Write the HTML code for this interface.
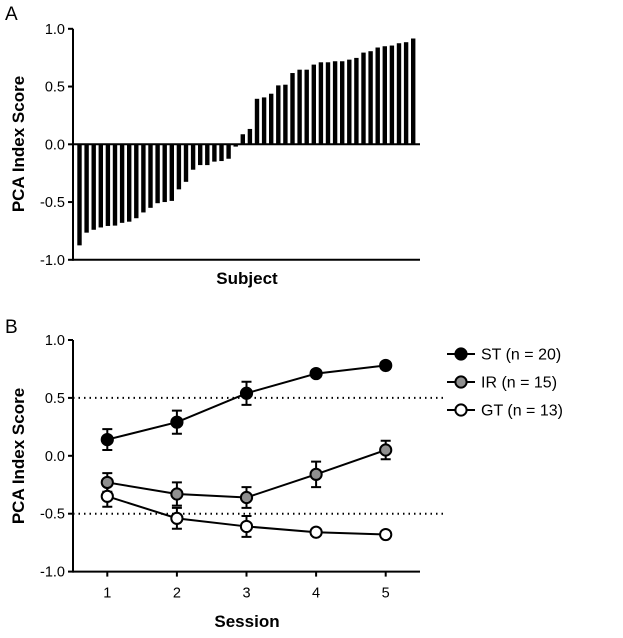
<!DOCTYPE html>
<html><head><meta charset="utf-8"><style>
html,body{margin:0;padding:0;background:#fff}
svg text{font-family:"Liberation Sans",Arial,sans-serif;fill:#000}
</style></head><body>
<svg id="c" width="623" height="633" viewBox="0 0 623 633" xmlns="http://www.w3.org/2000/svg">
<g id="gA"></g>
<g id="gB"></g>
</svg>
<script>
const subjectScores=[-0.875,-0.765,-0.74,-0.72,-0.707,-0.704,-0.68,-0.67,-0.64,-0.59,-0.55,-0.51,-0.50,-0.49,-0.39,-0.325,-0.22,-0.18,-0.18,-0.15,-0.145,-0.125,-0.02,
0.087,0.133,0.394,0.406,0.438,0.51,0.516,0.617,0.646,0.646,0.69,0.71,0.71,0.719,0.719,0.733,0.748,0.794,0.806,0.838,0.849,0.855,0.875,0.884,0.916];
const yTicks=[1.0,0.5,0.0,-0.5,-1.0];
const yTickLabels=["1.0","0.5","0.0","-0.5","-1.0"];
const sessions=[1,2,3,4,5];
const stMean=[0.14,0.29,0.54,0.71,0.78];
const stErr=[0.09,0.10,0.10,0.03,0.03];
const irMean=[-0.23,-0.33,-0.36,-0.16,0.05];
const irErr=[0.08,0.10,0.09,0.11,0.08];
const gtMean=[-0.35,-0.54,-0.61,-0.66,-0.68];
const gtErr=[0.09,0.09,0.09,0.02,0.02];
const seriesNames=["ST (n = 20)","IR (n = 15)","GT (n = 13)"];
const thresholds=[0.5,-0.5];

const NS="http://www.w3.org/2000/svg";
function mk(p,tag,attrs,txt){const e=document.createElementNS(NS,tag);for(const k in attrs)e.setAttribute(k,attrs[k]);if(txt!==undefined)e.textContent=txt;p.appendChild(e);return e;}

// Panel A
const gA=document.getElementById('gA');
const ax0=73, ax1=420;
const yA=v=>144.3-v*115.5;
const xA=i=>77.3+i*7.1;
subjectScores.forEach((v,i)=>{
  const r=mk(gA,'rect',{x:xA(i),y:Math.min(yA(v),yA(0)),width:4.4,height:Math.abs(yA(v)-yA(0)),fill:'#000'});
  
  
});
let l=mk(gA,'line',{x1:ax0,y1:yA(0),x2:ax1,y2:yA(0),stroke:'#000','stroke-width':2});

l=mk(gA,'line',{x1:ax0,y1:yA(1),x2:ax0,y2:yA(-1)+1,stroke:'#000','stroke-width':2});

l=mk(gA,'line',{x1:ax0,y1:yA(-1),x2:ax1,y2:yA(-1),stroke:'#000','stroke-width':2});

yTicks.forEach((v,i)=>{
  const t=mk(gA,'line',{x1:ax0-5,y1:yA(v),x2:ax0,y2:yA(v),stroke:'#000','stroke-width':2});
  
  const tx=mk(gA,'text',{x:ax0-8,y:yA(v)+5,'text-anchor':'end','font-size':14.5},yTickLabels[i]);
  
});
let tt=mk(gA,'text',{x:247,y:284,'text-anchor':'middle','font-size':17,'font-weight':'bold'},'Subject');

tt=mk(gA,'text',{x:0,y:0,'text-anchor':'middle','font-size':17,'font-weight':'bold',transform:'translate(24,144) rotate(-90)'},'PCA Index Score');

tt=mk(gA,'text',{x:5,y:20,'font-size':19},'A');


// Panel B
const gB=document.getElementById('gB');
const yB=v=>455.8-v*115.8;
const xB=s=>107.3+(s-1)*69.6;
thresholds.forEach(v=>{
  const d=mk(gB,'line',{x1:ax0,y1:yB(v),x2:445,y2:yB(v),stroke:'#000','stroke-width':2,'stroke-dasharray':'1.5 4'});
  
});
l=mk(gB,'line',{x1:ax0,y1:yB(1),x2:ax0,y2:yB(-1)+1,stroke:'#000','stroke-width':2});

l=mk(gB,'line',{x1:ax0,y1:yB(-1),x2:ax1,y2:yB(-1),stroke:'#000','stroke-width':2});

yTicks.forEach((v,i)=>{
  const t=mk(gB,'line',{x1:ax0-5,y1:yB(v),x2:ax0,y2:yB(v),stroke:'#000','stroke-width':2});
  
  const tx=mk(gB,'text',{x:ax0-8,y:yB(v)+5,'text-anchor':'end','font-size':14.5},yTickLabels[i]);
  
});
sessions.forEach(s=>{
  const t=mk(gB,'line',{x1:xB(s),y1:yB(-1),x2:xB(s),y2:yB(-1)+5,stroke:'#000','stroke-width':2});
  
  const tx=mk(gB,'text',{x:xB(s),y:yB(-1)+26,'text-anchor':'middle','font-size':14.5},String(s));
  
});
const series=[[stMean,stErr,'#000','st'],[irMean,irErr,'#8f8f8f','ir'],[gtMean,gtErr,'#fff','gt']];
series.forEach(([m,e,fill,key])=>{
  const pts=sessions.map((s,i)=>xB(s)+','+yB(m[i])).join(' ');
  const pl=mk(gB,'polyline',{points:pts,fill:'none',stroke:'#000','stroke-width':2});
  
  sessions.forEach((s,i)=>{
    const x=xB(s),y1=yB(m[i]+e[i]),y2=yB(m[i]-e[i]);
    const eb=mk(gB,'path',{d:`M${x},${y1}V${y2}M${x-5},${y1}H${x+5}M${x-5},${y2}H${x+5}`,stroke:'#000','stroke-width':2,fill:'none'});
    
  });
});
series.forEach(([m,e,fill,key])=>{
  sessions.forEach((s,i)=>{
    const c=mk(gB,'circle',{cx:xB(s),cy:yB(m[i]),r:5.6,fill:fill,stroke:'#000','stroke-width':2});
    
  });
});
series.forEach(([m,e,fill,key],i)=>{
  const y=354+i*28;
  const lg=mk(gB,'g',{});
  
  mk(lg,'line',{x1:447,y1:y,x2:475,y2:y,stroke:'#000','stroke-width':2});
  mk(lg,'circle',{cx:461,cy:y,r:5.6,fill:fill,stroke:'#000','stroke-width':2});
  mk(lg,'text',{x:481,y:y+5.5,'font-size':16},seriesNames[i]);
});
tt=mk(gB,'text',{x:247,y:627,'text-anchor':'middle','font-size':17,'font-weight':'bold'},'Session');

tt=mk(gB,'text',{x:0,y:0,'text-anchor':'middle','font-size':17,'font-weight':'bold',transform:'translate(24,456) rotate(-90)'},'PCA Index Score');

tt=mk(gB,'text',{x:5,y:333,'font-size':19},'B');

</script>
</body></html>
